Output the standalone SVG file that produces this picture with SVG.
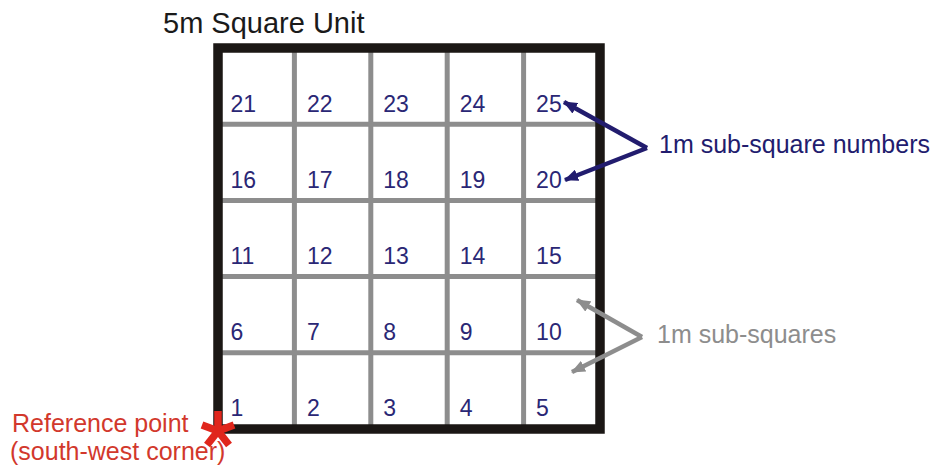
<svg xmlns="http://www.w3.org/2000/svg" width="937" height="471" viewBox="0 0 937 471">
<style>
.num{font-family:"Liberation Sans",Arial,sans-serif;font-size:23px;fill:#2a2775}
.grid{stroke:#8d8d8d;stroke-width:5;fill:none}
.frame{stroke:#1b1715;stroke-width:9.5;fill:none}
.lbl{font-family:"Liberation Sans",Arial,sans-serif;font-size:25px}
</style>
<defs>
<marker id="ahN" viewBox="0 0 14 12" refX="13" refY="6" markerWidth="14" markerHeight="12" markerUnits="userSpaceOnUse" orient="auto"><path d="M0,0 L14,6 L0,12 Z" fill="#221c6e"/></marker>
<marker id="ahG" viewBox="0 0 14 12" refX="13" refY="6" markerWidth="14" markerHeight="12" markerUnits="userSpaceOnUse" orient="auto"><path d="M0,0 L14,6 L0,12 Z" fill="#8d8d8d"/></marker>
</defs>
<rect width="937" height="471" fill="#ffffff"/>
<text id="title" x="163" y="33" font-family="'Liberation Sans',Arial,sans-serif" font-size="29" fill="#1a1a1a">5m Square Unit</text>
<g id="grid">
<line class="grid" x1="294.4" y1="48" x2="294.4" y2="429"/>
<line class="grid" x1="370.8" y1="48" x2="370.8" y2="429"/>
<line class="grid" x1="447.2" y1="48" x2="447.2" y2="429"/>
<line class="grid" x1="523.6" y1="48" x2="523.6" y2="429"/>
<line class="grid" x1="218" y1="124.2" x2="600" y2="124.2"/>
<line class="grid" x1="218" y1="200.4" x2="600" y2="200.4"/>
<line class="grid" x1="218" y1="276.6" x2="600" y2="276.6"/>
<line class="grid" x1="218" y1="352.8" x2="600" y2="352.8"/>
<rect class="frame" x="218" y="48" width="382" height="381"/>
</g>
<g id="numbers">
<text class="num" x="230.5" y="112">21</text><text class="num" x="306.9" y="112">22</text><text class="num" x="383.3" y="112">23</text><text class="num" x="459.7" y="112">24</text><text class="num" x="536.1" y="112">25</text>
<text class="num" x="230.5" y="188">16</text><text class="num" x="306.9" y="188">17</text><text class="num" x="383.3" y="188">18</text><text class="num" x="459.7" y="188">19</text><text class="num" x="536.1" y="188">20</text>
<text class="num" x="230.5" y="264">11</text><text class="num" x="306.9" y="264">12</text><text class="num" x="383.3" y="264">13</text><text class="num" x="459.7" y="264">14</text><text class="num" x="536.1" y="264">15</text>
<text class="num" x="230.5" y="340">6</text><text class="num" x="306.9" y="340">7</text><text class="num" x="383.3" y="340">8</text><text class="num" x="459.7" y="340">9</text><text class="num" x="536.1" y="340">10</text>
<text class="num" x="230.5" y="416">1</text><text class="num" x="306.9" y="416">2</text><text class="num" x="383.3" y="416">3</text><text class="num" x="459.7" y="416">4</text><text class="num" x="536.1" y="416">5</text>
</g>
<g id="connectors">
<line x1="647" y1="148" x2="564" y2="102" stroke="#221c6e" stroke-width="4.5" marker-end="url(#ahN)"/>
<line x1="647" y1="148" x2="565" y2="180" stroke="#221c6e" stroke-width="4.5" marker-end="url(#ahN)"/>
<line x1="642" y1="337" x2="577" y2="300" stroke="#8d8d8d" stroke-width="4.5" marker-end="url(#ahG)"/>
<line x1="642" y1="337" x2="572" y2="372" stroke="#8d8d8d" stroke-width="4.5" marker-end="url(#ahG)"/>
</g>
<g id="label-numbers"><text class="lbl" x="659" y="153" fill="#221c6e">1m sub-square numbers</text></g>
<g id="label-squares"><text class="lbl" x="657" y="343" fill="#8d8d8d">1m sub-squares</text></g>
<g id="reference">
<text class="lbl" x="12" y="432" fill="#d2382c" font-size="26">Reference point</text>
<text class="lbl" x="10" y="460" fill="#d2382c" font-size="25.5">(south-west corner)</text>
<g stroke="#e0261c" stroke-width="7.5" stroke-linecap="butt">
<line x1="218" y1="431" x2="218" y2="411"/>
<line x1="218" y1="431" x2="202" y2="425"/>
<line x1="218" y1="431" x2="234" y2="425"/>
<line x1="218" y1="431" x2="207" y2="445"/>
<line x1="218" y1="431" x2="229" y2="445"/>
</g>
</g>
</svg>
